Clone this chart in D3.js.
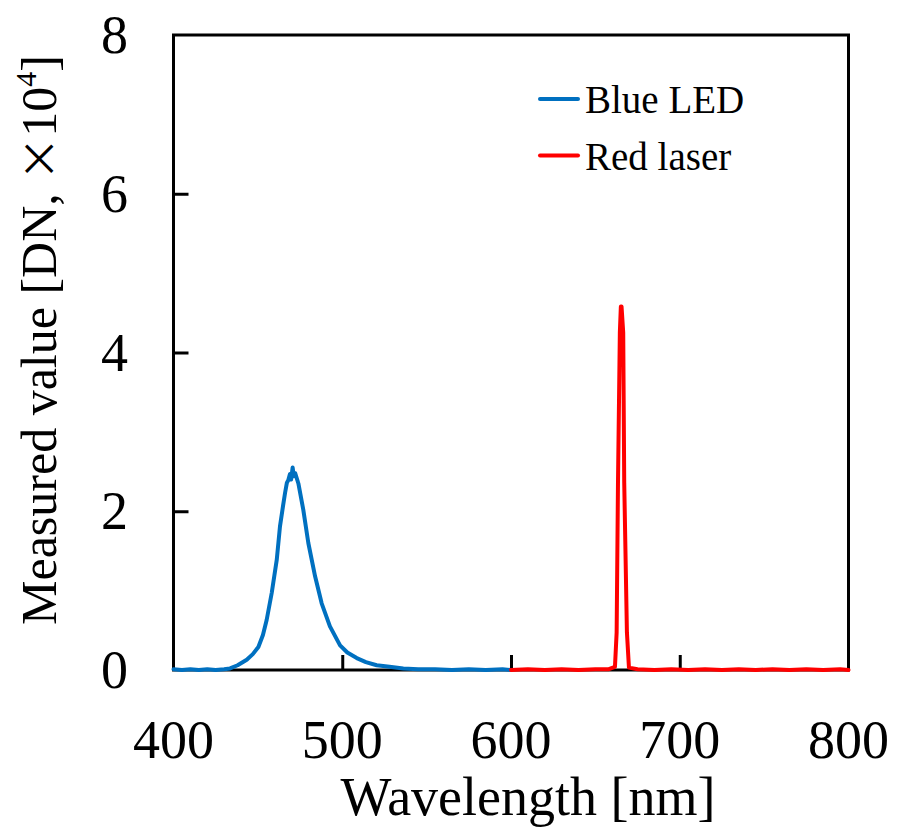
<!DOCTYPE html>
<html>
<head>
<meta charset="utf-8">
<script src="https://cdn.jsdelivr.net/npm/d3@7/dist/d3.min.js"></script>
<style>
  html, body { margin: 0; padding: 0; background: #fff; }
  svg { display: block; }
  text { font-family: "Liberation Serif", "Times New Roman", serif; fill: #000; }
</style>
</head>
<body>
<svg id="chart" width="897" height="835"></svg>
<script>
// Spectra: [wavelength (nm), measured value (DN ×10^4)]
const blueLED = [
  [400, 0.01], [405, 0.00], [410, 0.01], [415, 0.00], [420, 0.01], [425, 0.00],
  [430, 0.01], [433.5, 0.02], [438, 0.06], [443.4, 0.13], [447, 0.20], [450.3, 0.29],
  [453, 0.44], [455.2, 0.63], [458.2, 0.97], [461.2, 1.39], [463.1, 1.81], [465, 2.08],
  [466.1, 2.23], [467.2, 2.36], [468.0, 2.39], [469.0, 2.47], [469.7, 2.40], [470.6, 2.55],
  [471.3, 2.44], [472.1, 2.48], [474.0, 2.35], [476.9, 2.02], [479.9, 1.60], [483.9, 1.18],
  [487.8, 0.84], [492.7, 0.55], [498.7, 0.31], [503, 0.22], [508.6, 0.15], [514, 0.10],
  [520.4, 0.06], [528, 0.04], [536.2, 0.02], [545, 0.01], [555, 0.01], [565, 0.00],
  [575, 0.01], [585, 0.00], [595, 0.01], [600, 0.00]
];
const redLaser = [
  [600, 0.00], [610, 0.01], [620, 0.00], [630, 0.01], [640, 0.00], [650, 0.01],
  [658, 0.01], [661.6, 0.04], [662.6, 0.47], [663.4, 2.36], [664.5, 4.25], [665.1, 4.58],
  [665.5, 4.58], [666.5, 4.25], [667.1, 2.36], [668.7, 0.47], [669.9, 0.03], [675, 0.01],
  [685, 0.00], [695, 0.01], [705, 0.00], [715, 0.01], [725, 0.00], [735, 0.01],
  [745, 0.00], [755, 0.01], [765, 0.00], [775, 0.01], [785, 0.00], [795, 0.01], [800, 0.00]
];
const seriesNames = ["Blue LED", "Red laser"];
const seriesColors = ["#0070c0", "#ff0000"];
const xTicks = [400, 500, 600, 700, 800];
const yTicks = [0, 2, 4, 6, 8];

const svg = d3.select("#chart");
const plot = { left: 173.5, right: 848.5, top: 35, bottom: 670 };

const x = d3.scaleLinear().domain([400, 800]).range([plot.left, plot.right]);
const y = d3.scaleLinear().domain([0, 8]).range([plot.bottom, plot.top]);

// Frame around the plot area
svg.append("rect")
  .attr("x", plot.left).attr("y", plot.top)
  .attr("width", plot.right - plot.left).attr("height", plot.bottom - plot.top)
  .attr("fill", "none").attr("stroke", "#000").attr("stroke-width", 3);

// Inward ticks (labels drawn separately)
const xAxis = d3.axisBottom(x).tickValues(xTicks.slice(1, -1)).tickSizeInner(-15).tickSizeOuter(0).tickFormat("");
const gx = svg.append("g").attr("transform", `translate(0,${plot.bottom})`).call(xAxis);
gx.select(".domain").remove();
gx.selectAll(".tick line").attr("stroke", "#000").attr("stroke-width", 3);

const yAxis = d3.axisLeft(y).tickValues(yTicks.slice(1, -1)).tickSizeInner(-15).tickSizeOuter(0).tickFormat("");
const gy = svg.append("g").attr("transform", `translate(${plot.left},0)`).call(yAxis);
gy.select(".domain").remove();
gy.selectAll(".tick line").attr("stroke", "#000").attr("stroke-width", 3);

// Tick labels
svg.append("g").selectAll("text").data(xTicks).join("text")
  .attr("x", d => x(d)).attr("y", 758)
  .attr("text-anchor", "middle").attr("font-size", 54)
  .text(d => d);

svg.append("g").selectAll("text").data(yTicks).join("text")
  .attr("x", 128).attr("y", d => y(d) + 18)
  .attr("text-anchor", "end").attr("font-size", 54)
  .text(d => d);

// Axis titles
svg.append("text")
  .attr("x", 528).attr("y", 815)
  .attr("text-anchor", "middle").attr("font-size", 54)
  .text("Wavelength [nm]");

const yTitle = svg.append("text")
  .attr("transform", "translate(56,340) rotate(-90)")
  .attr("text-anchor", "middle").attr("font-size", 50);
yTitle.append("tspan").text("Measured value [DN, ");
yTitle.append("tspan").style("font-family", "'Noto Sans CJK JP'").attr("font-size", 44).text("×");
yTitle.append("tspan").text("10");
yTitle.append("tspan").attr("font-size", 30).attr("dy", -20).text("4");
yTitle.append("tspan").attr("dy", 20).text("]");

// Spectra lines
const line = d3.line().x(d => x(d[0])).y(d => y(d[1]));
[blueLED, redLaser].forEach((s, i) => {
  svg.append("path").datum(s)
    .attr("d", line)
    .attr("fill", "none")
    .attr("stroke", seriesColors[i])
    .attr("stroke-width", 4)
    .attr("stroke-linejoin", "round")
    .attr("stroke-linecap", "round");
});

// Legend
const legend = svg.append("g");
seriesNames.forEach((name, i) => {
  const ly = 99 + i * 56.5;
  legend.append("line")
    .attr("x1", 540).attr("x2", 578).attr("y1", ly).attr("y2", ly)
    .attr("stroke", seriesColors[i]).attr("stroke-width", 4).attr("stroke-linecap", "round");
  legend.append("text")
    .attr("x", 585).attr("y", ly + 14)
    .attr("font-size", 39)
    .text(name);
});
</script>
</body>
</html>
